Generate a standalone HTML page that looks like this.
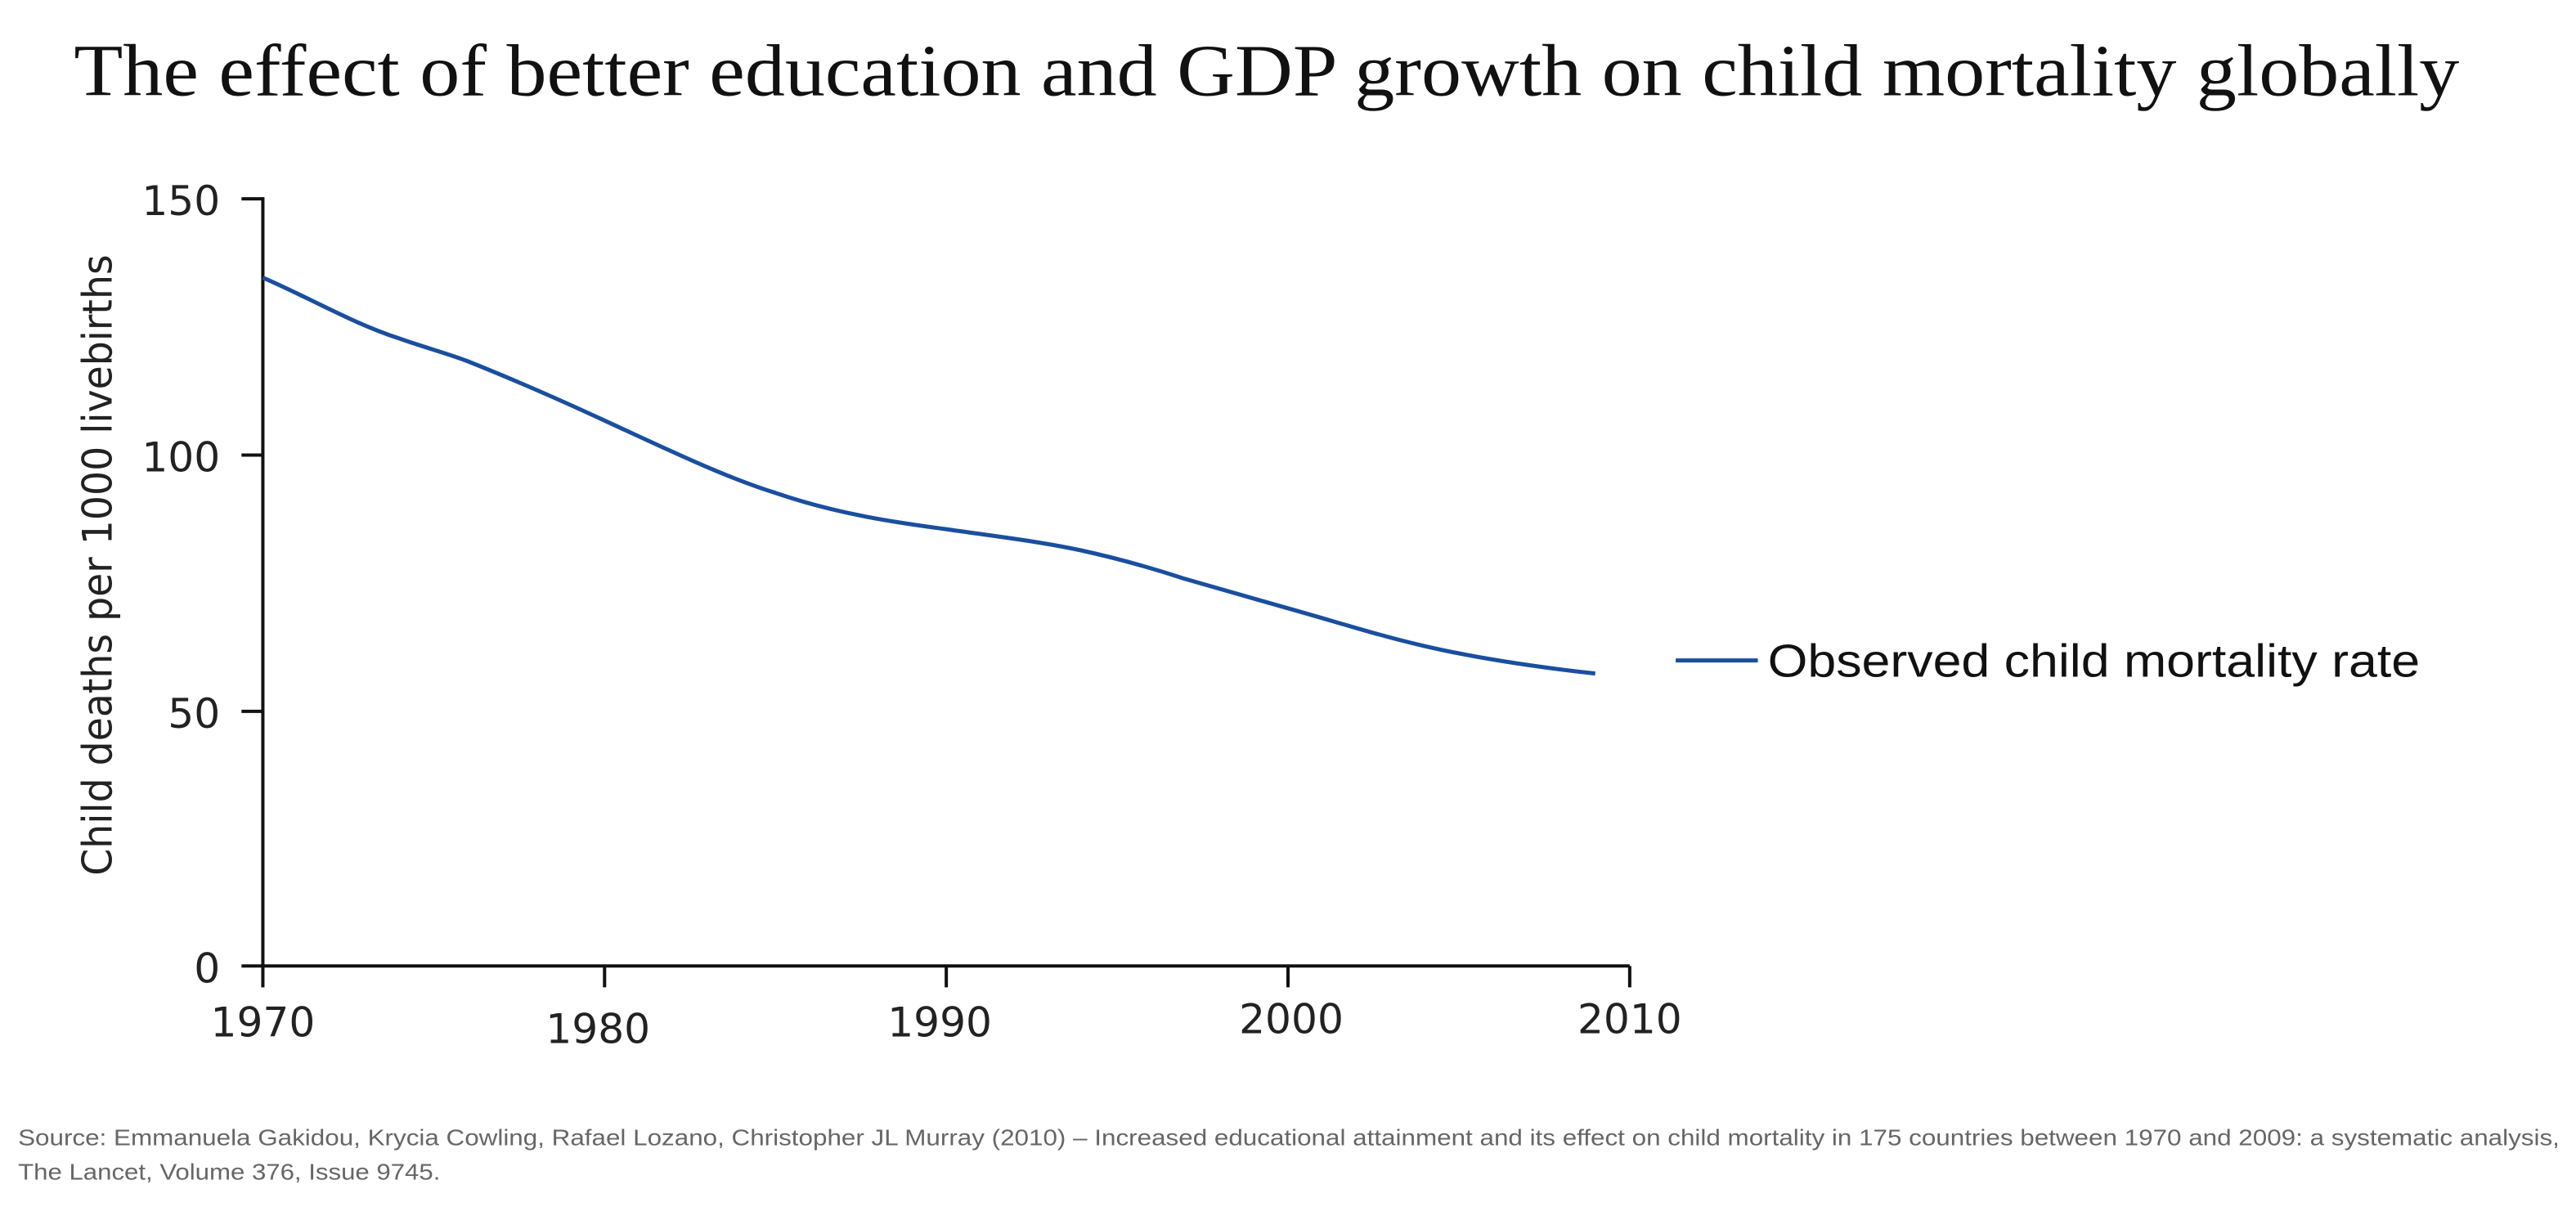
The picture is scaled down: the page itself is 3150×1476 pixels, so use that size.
<!DOCTYPE html>
<html><head><style>
html,body{margin:0;padding:0;background:#fff;}
svg{display:block;}
</style></head><body>
<svg width="3150" height="1476" viewBox="0 0 1568 734.7" preserveAspectRatio="none" xmlns="http://www.w3.org/2000/svg">
<rect width="1568" height="735" fill="#fff"/>
<text x="45" y="58" font-family="Liberation Serif, serif" font-size="45" fill="#111" textLength="1452" lengthAdjust="spacingAndGlyphs">The effect of better education and GDP growth on child mortality globally</text>
<g stroke="#111" stroke-width="2" fill="none">
<line x1="160" y1="120" x2="160" y2="589"/>
<line x1="159" y1="588" x2="992" y2="588"/>
<line x1="147" y1="121" x2="160" y2="121"/>
<line x1="147" y1="277" x2="160" y2="277"/>
<line x1="147" y1="433" x2="160" y2="433"/>
<line x1="147" y1="588" x2="160" y2="588"/>
<line x1="160" y1="588" x2="160" y2="601"/>
<line x1="368" y1="588" x2="368" y2="601"/>
<line x1="576" y1="588" x2="576" y2="601"/>
<line x1="784" y1="588" x2="784" y2="601"/>
<line x1="992" y1="588" x2="992" y2="601"/>
</g>
<g font-family="DejaVu Sans, Liberation Sans, sans-serif" font-size="25" fill="#222">
<text x="134" y="131" text-anchor="end">150</text>
<text x="134" y="287" text-anchor="end">100</text>
<text x="134" y="443" text-anchor="end">50</text>
<text x="134" y="598" text-anchor="end">0</text>
<text x="160" y="631" text-anchor="middle">1970</text>
<text x="364" y="635" text-anchor="middle">1980</text>
<text x="572" y="631" text-anchor="middle">1990</text>
<text x="786" y="629" text-anchor="middle">2000</text>
<text x="992" y="629" text-anchor="middle">2010</text>
<text transform="translate(68,344) rotate(-90)" text-anchor="middle" font-size="25" textLength="378" lengthAdjust="spacingAndGlyphs">Child deaths per 1000 livebirths</text>
</g>
<path d="M160,169 C190,182 215,197 243,206 C260,212 272,215 285,220 C315,232 340,243 368,256 C405,273 440,290 472,300 C510,313 545,318 575,322 C610,327 635,330 658,335 C685,341 705,347 720,352 C745,359 765,365 783,370 C815,379 840,387 866,393 C900,401 935,406 971,410" fill="none" stroke="#1a4f9f" stroke-width="2.5"/>
<line x1="1020" y1="402" x2="1070" y2="402" stroke="#1a4f9f" stroke-width="2.5"/>
<text x="1076" y="412" font-family="Liberation Sans, sans-serif" font-size="28" fill="#111" textLength="397" lengthAdjust="spacingAndGlyphs">Observed child mortality rate</text>
<g font-family="Liberation Sans, sans-serif" font-size="14" fill="#666">
<text x="11" y="697" textLength="1547" lengthAdjust="spacingAndGlyphs">Source: Emmanuela Gakidou, Krycia Cowling, Rafael Lozano, Christopher JL Murray (2010) – Increased educational attainment and its effect on child mortality in 175 countries between 1970 and 2009: a systematic analysis,</text>
<text x="11" y="718" textLength="257" lengthAdjust="spacingAndGlyphs">The Lancet, Volume 376, Issue 9745.</text>
</g>
</svg>
</body></html>
